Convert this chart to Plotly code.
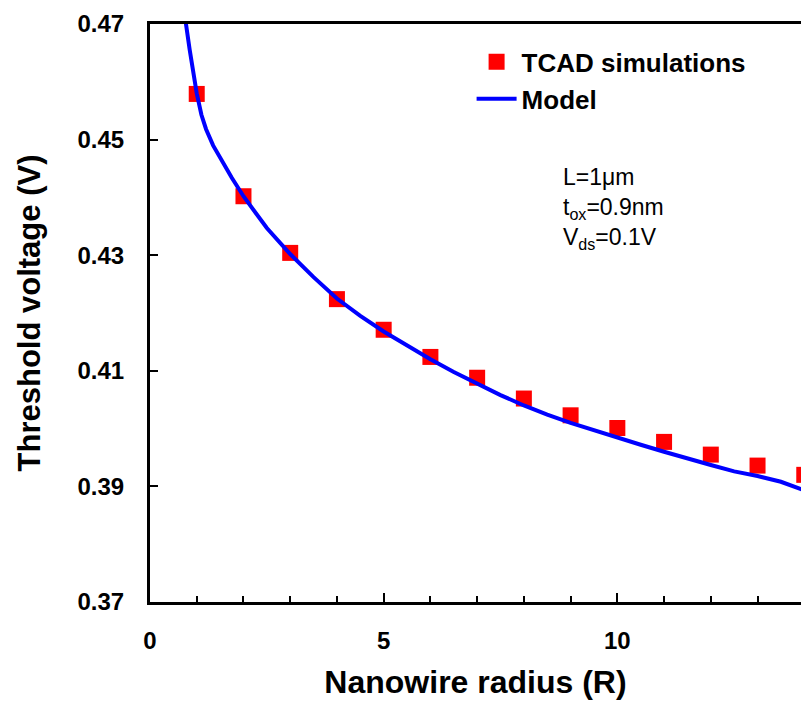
import plotly.graph_objects as go

# TCAD simulation points
tcad_r = [1, 2, 3, 4, 5, 6, 7, 8, 9, 10, 11, 12, 13, 14]
tcad_vt = [0.4579, 0.4402, 0.4304, 0.4224, 0.4171, 0.4124, 0.4088, 0.4052,
           0.4023, 0.4001, 0.3977, 0.3955, 0.3936, 0.3920]

# Model curve
model_r = [0.74, 0.77, 0.85, 0.92, 1.0, 1.1, 1.2, 1.35, 1.5, 1.75, 2.0, 2.5, 3.0, 3.5,
           4.0, 4.5, 5.0, 5.5, 6.0, 6.5, 7.0, 7.5, 8.0, 8.5, 9.0, 9.5, 10.0,
           10.5, 11.0, 11.5, 12.0, 12.5, 13.0, 13.5, 14.0]
model_vt = [0.4728, 0.4700, 0.4655, 0.4620, 0.4580, 0.4543, 0.4518, 0.4490, 0.4468,
            0.4434, 0.4402, 0.4347, 0.4302, 0.4262, 0.4225, 0.4195, 0.4168,
            0.4143, 0.4120, 0.4098, 0.4078, 0.4058, 0.4040, 0.4024, 0.4010,
            0.3997, 0.3985, 0.3972, 0.3960, 0.3948, 0.3937, 0.3926, 0.3918,
            0.3908, 0.3893]

x_ticks = [0, 5, 10]
y_ticks = [0.37, 0.39, 0.41, 0.43, 0.45, 0.47]

FONT = "Liberation Sans, Arial, sans-serif"

fig = go.Figure()
fig.add_trace(go.Scatter(
    x=tcad_r, y=tcad_vt, mode="markers", name="TCAD simulations",
    marker=dict(symbol="square", size=16, color="#FF0000"),
))
fig.add_trace(go.Scatter(
    x=model_r, y=model_vt, mode="lines", name="Model",
    line=dict(color="#0000FF", width=4),
))

fig.update_layout(
    width=801, height=701,
    margin=dict(l=150, r=0, t=24, b=99),
    paper_bgcolor="white", plot_bgcolor="white",
    font=dict(family=FONT, color="black"),
    showlegend=True,
    legend=dict(
        x=0.494, y=0.975, xanchor="left", yanchor="top",
        bgcolor="rgba(0,0,0,0)",
        font=dict(size=26, family=FONT, weight="bold"),
        itemwidth=40, tracegroupgap=0,
    ),
    annotations=[dict(
        xref="paper", yref="paper", x=0.632, y=0.762,
        xanchor="left", yanchor="top", align="left", showarrow=False,
        text="L=1μm<br>t<sub>ox</sub>=0.9nm<br>V<sub>ds</sub>=0.1V",
        font=dict(size=23, family=FONT),
    )],
)

fig.update_xaxes(
    range=[0, 13.93], tickvals=x_ticks, ticktext=[str(v) for v in x_ticks],
    showline=True, linecolor="black", linewidth=3, mirror=True,
    ticks="inside", ticklen=9, tickwidth=2, tickcolor="black",
    minor=dict(dtick=1, ticks="inside", ticklen=6, tickwidth=2, tickcolor="black"),
    showgrid=False, zeroline=False,
    tickfont=dict(size=24, family=FONT, weight="bold"),
    ticklabelstandoff=15,
    title=dict(text="Nanowire radius (R)", font=dict(size=32, family=FONT, weight="bold"),
               standoff=18),
)
fig.update_yaxes(
    range=[0.37, 0.47], tickvals=y_ticks, ticktext=[f"{v:.2f}" for v in y_ticks],
    showline=True, linecolor="black", linewidth=3, mirror=False,
    ticks="inside", ticklen=8, tickwidth=2, tickcolor="black",
    showgrid=False, zeroline=False,
    tickfont=dict(size=24, family=FONT, weight="bold"),
    ticklabelstandoff=18,
    title=dict(text="Threshold voltage (V)", font=dict(size=31, family=FONT, weight="bold"),
               standoff=28),
)

fig.write_html("out.html")
